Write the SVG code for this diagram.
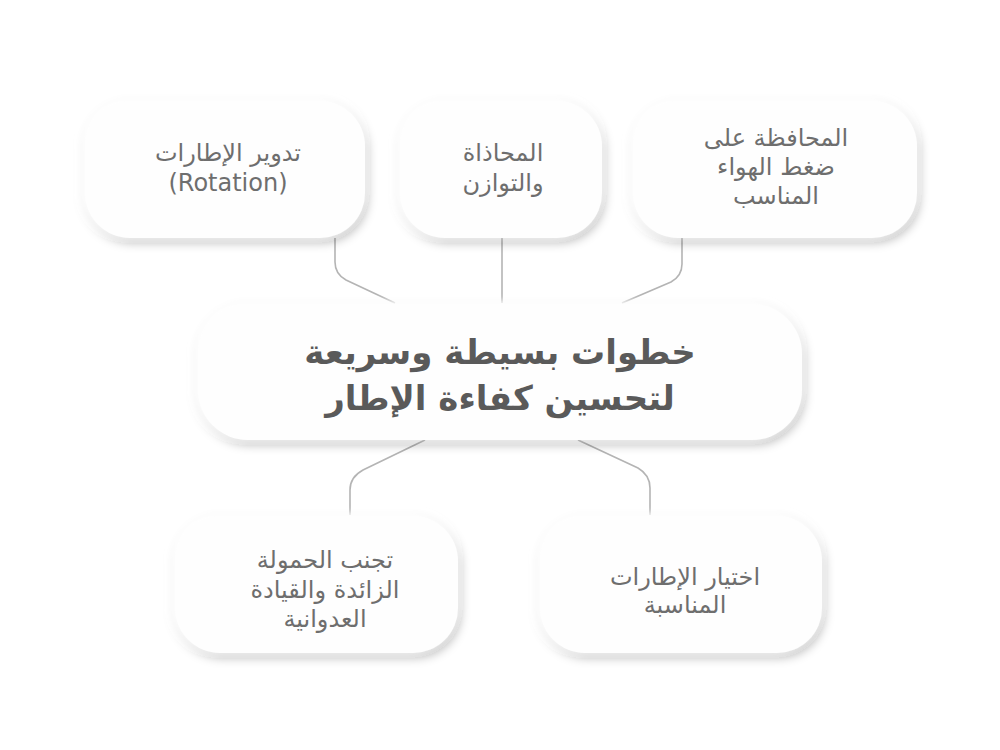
<svg xmlns="http://www.w3.org/2000/svg" width="1000" height="750" viewBox="0 0 1000 750">
<style>
.node{fill:#fefefe;filter:url(#sh)}
.t{font-family:"DejaVu Sans","Noto Sans",sans-serif;font-size:24px;fill:#6e6e6e;text-anchor:middle;direction:rtl}
.tt{font-family:"DejaVu Sans","Noto Sans",sans-serif;font-size:34px;font-weight:bold;fill:#5a5a5a;text-anchor:middle;direction:rtl}
.c{fill:none;stroke:#b4b4b4;stroke-width:1.6}
</style>
<defs>
<filter id="sh" x="-20%" y="-30%" width="140%" height="160%">
<feDropShadow dx="-3" dy="-3" stdDeviation="3" flood-color="#ffffff" flood-opacity="1"/>
<feDropShadow dx="3" dy="5" stdDeviation="5" flood-color="#000" flood-opacity="0.24"/>
</filter>
</defs>
<rect width="1000" height="750" fill="#ffffff"/>
<g id="connectors">
<path class="c" d="M335,238 V262 Q335,274 346,280 L395,303"/>
<path class="c" d="M502,238 V303"/>
<path class="c" d="M682,238 V264 Q682,276 671,282 L622,303"/>
<path class="c" d="M425,440 L363,470 Q350,477 350,490 V515"/>
<path class="c" d="M578,440 L638,468 Q650,475 650,488 V515"/>
</g>
<g id="n1"><rect class="node" x="85" y="101" width="280" height="137" rx="45"/>
<text class="t" x="228" y="161">تدوير الإطارات</text>
<text class="t" x="228" y="191" style="direction:ltr">(Rotation)</text></g>
<g id="n2"><rect class="node" x="400" y="101" width="202" height="137" rx="45"/>
<text class="t" x="503" y="161">المحاذاة</text>
<text class="t" x="503" y="191">والتوازن</text></g>
<g id="n3"><rect class="node" x="633" y="101" width="284" height="137" rx="45"/>
<text class="t" x="776" y="146">المحافظة على</text>
<text class="t" x="776" y="175">ضغط الهواء</text>
<text class="t" x="776" y="204">المناسب</text></g>
<g id="center"><rect class="node" x="198" y="304" width="604" height="136" rx="50"/>
<text class="tt" x="500" y="364">خطوات بسيطة وسريعة</text>
<text class="tt" x="500" y="410">لتحسين كفاءة الإطار</text></g>
<g id="n4"><rect class="node" x="175" y="516" width="283" height="137" rx="45"/>
<text class="t" x="325" y="568">تجنب الحمولة</text>
<text class="t" x="325" y="598">الزائدة والقيادة</text>
<text class="t" x="325" y="627">العدوانية</text></g>
<g id="n5"><rect class="node" x="540" y="516" width="282" height="137" rx="45"/>
<text class="t" x="685" y="585">اختيار الإطارات</text>
<text class="t" x="685" y="613">المناسبة</text></g>
</svg>
